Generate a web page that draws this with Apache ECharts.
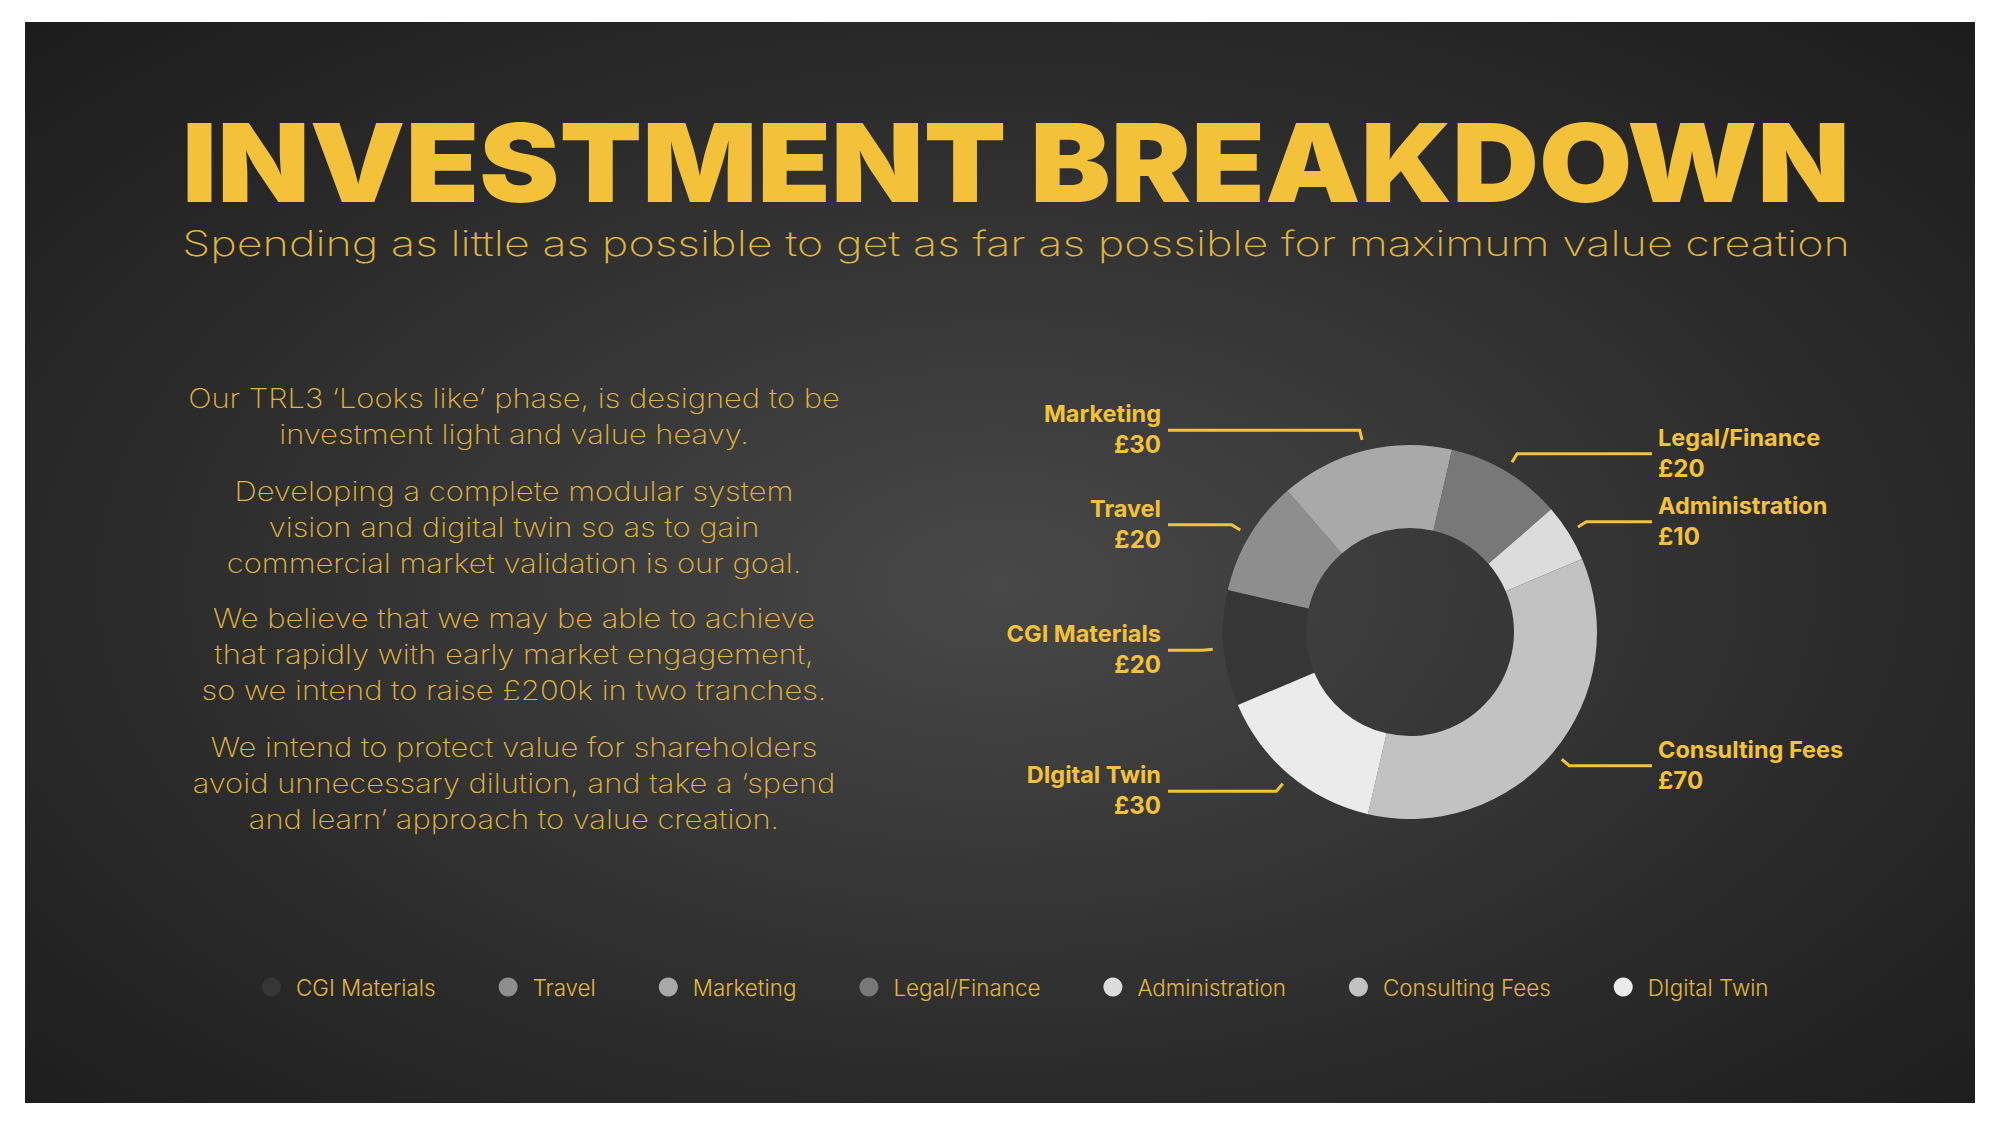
<!DOCTYPE html>
<html>
<head>
<meta charset="utf-8">
<script src="https://cdn.jsdelivr.net/npm/echarts@6/dist/echarts.min.js"></script>
<style>
html,body{margin:0;padding:0;background:#ffffff;width:2000px;height:1125px;overflow:hidden}
#panel{position:absolute;left:25px;top:22px;width:1950px;height:1081px;
  background:radial-gradient(ellipse at 50% 52%, #484848 0%, #2c2c2c 60%, #1c1c1c 100%);}
#chart{position:absolute;left:0;top:0;width:2000px;height:1125px}
</style>
</head>
<body>
<div id="panel"></div>
<div id="chart"></div>
<script>
// ---- data ----
const categories = ['CGI Materials', 'Travel', 'Marketing', 'Legal/Finance', 'Administration', 'Consulting Fees', 'DIgital Twin'];
const values = [20, 20, 30, 20, 10, 70, 30];
const currency = '£';

const titleText = 'INVESTMENT BREAKDOWN';
const subtitleText = 'Spending as little as possible to get as far as possible for maximum value creation';
const paragraph1 = ['Our TRL3 ‘Looks like’ phase, is designed to be', 'investment light and value heavy.'];
const paragraph2 = ['Developing a complete modular system', 'vision and digital twin so as to gain', 'commercial market validation is our goal.'];
const paragraph3 = ['We believe that we may be able to achieve', 'that rapidly with early market engagement,', 'so we intend to raise £200k in two tranches.'];
const paragraph4 = ['We intend to protect value for shareholders', 'avoid unnecessary dilution, and take a ‘spend', 'and learn’ approach to value creation.'];

// ---- styles ----
const sliceColors = ['#363636', '#8e8e8e', '#a9a9a9', '#787878', '#dcdcdc', '#c2c2c2', '#ebebeb'];
const GOLD = '#F3C23A';
const GOLD_THIN = '#E2B63E';
const FONT = 'Inter, Lato, "Noto Sans", sans-serif';
const PIE_CENTER = [1410, 632];
const R_IN = 104, R_OUT = 187;
const LINE_REACH = 242;

const mctx = document.createElement('canvas').getContext('2d');
function measure(str, weight, size) {
  mctx.font = weight + ' ' + size + 'px Inter, Lato, sans-serif';
  return mctx.measureText(str).width;
}

const titleSize = 108, subSize = 35, paraSize = 27;
const titleScale = 1668 / measure(titleText, 900, titleSize);
const subScale = 1668 / measure(subtitleText, 200, subSize);
const allLines = paragraph1.concat(paragraph2, paragraph3, paragraph4);
const paraScale = 652 / Math.max.apply(null, allLines.map(l => measure(l, 200, paraSize)));

function paraEl(lines, cy) {
  return {
    type: 'text', x: 514, y: cy, scaleX: paraScale, silent: true,
    style: {
      text: lines.join('\n'), fill: GOLD_THIN, fontFamily: FONT, fontWeight: 200,
      fontSize: paraSize, lineHeight: 36, align: 'center', verticalAlign: 'middle'
    }
  };
}

const chart = echarts.init(document.getElementById('chart'), null, { renderer: 'svg' });

chart.setOption({
  backgroundColor: 'transparent',
  animation: false,
  graphic: [
    { type: 'text', x: 1016, y: 163, scaleX: titleScale, silent: true,
      style: { text: titleText, fill: GOLD, fontFamily: FONT, fontWeight: 900, fontSize: titleSize,
        align: 'center', verticalAlign: 'middle' } },
    { type: 'text', x: 1016, y: 243, scaleX: subScale, silent: true,
      style: { text: subtitleText, fill: GOLD_THIN, fontFamily: FONT, fontWeight: 200, fontSize: subSize,
        align: 'center', verticalAlign: 'middle' } },
    paraEl(paragraph1, 416.5),
    paraEl(paragraph2, 527),
    paraEl(paragraph3, 654.5),
    paraEl(paragraph4, 783)
  ],
  legend: {
    show: true,
    left: 262, top: 976, padding: 0,
    icon: 'circle', itemWidth: 19, itemHeight: 19, itemGap: 63,
    data: categories,
    textStyle: { color: GOLD_THIN, fontFamily: FONT, fontWeight: 300, fontSize: 22.4, padding: [0, 0, 0, 10] },
    selectedMode: false
  },
  series: [{
    type: 'pie',
    center: PIE_CENTER,
    radius: [R_IN, R_OUT],
    startAngle: 203,
    clockwise: true,
    avoidLabelOverlap: false,
    silent: true,
    emphasis: { disabled: true },
    data: categories.map((n, i) => ({ name: n, value: values[i], itemStyle: { color: sliceColors[i] } })),
    label: {
      show: true,
      position: 'outside',
      formatter: p => '{n|' + p.name + '}\n{v|' + currency + p.value + '}',
      rich: {
        n: { color: GOLD, fontFamily: FONT, fontWeight: 700, fontSize: 23.5, lineHeight: 31 },
        v: { color: GOLD, fontFamily: FONT, fontWeight: 700, fontSize: 24, lineHeight: 31 }
      }
    },
    labelLine: { show: true, length: 12, length2: 40, lineStyle: { color: GOLD, width: 3 } },
    labelLayout: function (p) {
      const pts = p.labelLinePoints;
      if (!pts) return {};
      const cx = PIE_CENTER[0], cy = PIE_CENTER[1];
      const dx = pts[0][0] - cx, dy = pts[0][1] - cy;
      const d = Math.sqrt(dx * dx + dy * dy) || 1;
      const ux = dx / d, uy = dy / d;
      const a = [cx + ux * (R_OUT + 11), cy + uy * (R_OUT + 11)];
      const b = [cx + ux * (R_OUT + 21), cy + uy * (R_OUT + 21)];
      const isLeft = dx < 0;
      const endX = isLeft ? cx - LINE_REACH : cx + LINE_REACH;
      return {
        x: isLeft ? endX - 7 : endX + 6,
        y: b[1] - 1,
        align: isLeft ? 'right' : 'left',
        verticalAlign: 'middle',
        labelLinePoints: [a, b, [endX, b[1]]]
      };
    }
  }]
});
</script>
</body>
</html>
